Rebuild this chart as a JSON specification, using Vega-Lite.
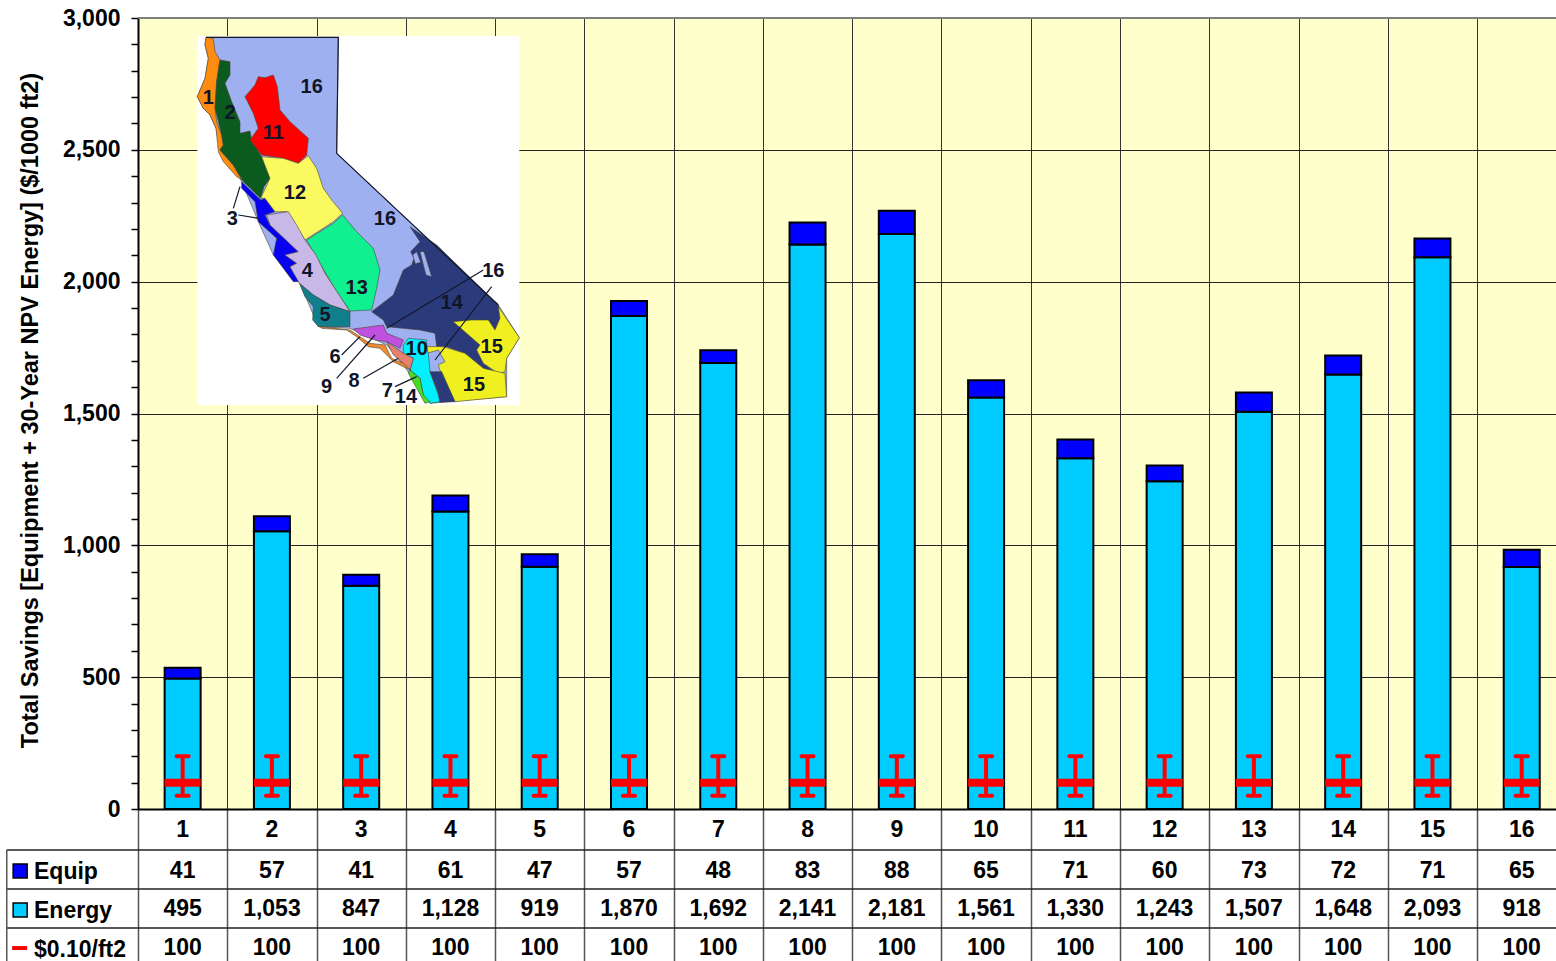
{
  "$schema": "https://vega.github.io/schema/vega-lite/v6.json",
  "autosize": "none",
  "width": 1418,
  "height": 791,
  "padding": {"left": 138, "top": 18, "right": 0, "bottom": 152},
  "background": "white",
  "view": {"fill": "#FFFFCC", "stroke": null},
  "config": {
    "font": "Liberation Sans",
    "text": {"font": "Liberation Sans", "fontWeight": "bold", "fontSize": 23, "color": "#000000"}
  },
  "datasets": {
    "zones": [
      {"zone": 1, "equip": 41, "energy": 495, "threshold": 100, "low": 50, "high": 200},
      {"zone": 2, "equip": 57, "energy": 1053, "threshold": 100, "low": 50, "high": 200},
      {"zone": 3, "equip": 41, "energy": 847, "threshold": 100, "low": 50, "high": 200},
      {"zone": 4, "equip": 61, "energy": 1128, "threshold": 100, "low": 50, "high": 200},
      {"zone": 5, "equip": 47, "energy": 919, "threshold": 100, "low": 50, "high": 200},
      {"zone": 6, "equip": 57, "energy": 1870, "threshold": 100, "low": 50, "high": 200},
      {"zone": 7, "equip": 48, "energy": 1692, "threshold": 100, "low": 50, "high": 200},
      {"zone": 8, "equip": 83, "energy": 2141, "threshold": 100, "low": 50, "high": 200},
      {"zone": 9, "equip": 88, "energy": 2181, "threshold": 100, "low": 50, "high": 200},
      {"zone": 10, "equip": 65, "energy": 1561, "threshold": 100, "low": 50, "high": 200},
      {"zone": 11, "equip": 71, "energy": 1330, "threshold": 100, "low": 50, "high": 200},
      {"zone": 12, "equip": 60, "energy": 1243, "threshold": 100, "low": 50, "high": 200},
      {"zone": 13, "equip": 73, "energy": 1507, "threshold": 100, "low": 50, "high": 200},
      {"zone": 14, "equip": 72, "energy": 1648, "threshold": 100, "low": 50, "high": 200},
      {"zone": 15, "equip": 71, "energy": 2093, "threshold": 100, "low": 50, "high": 200},
      {"zone": 16, "equip": 65, "energy": 918, "threshold": 100, "low": 50, "high": 200}
    ],
    "rowEdges": [{"edge": 1.038}, {"edge": 2.025}, {"edge": 3.013}],
    "rowLabels": [
      {"label": "Equip", "row": 1.6},
      {"label": "Energy", "row": 2.58},
      {"label": "$0.10/ft2", "row": 3.56}
    ],
    "mapLabels": [
      {"t": "16", "mx": 365, "my": 185},
      {"t": "1", "mx": 55, "my": 218},
      {"t": "2", "mx": 120, "my": 265},
      {"t": "11", "mx": 250, "my": 325},
      {"t": "12", "mx": 315, "my": 505},
      {"t": "16", "mx": 585, "my": 582},
      {"t": "3", "mx": 127, "my": 582},
      {"t": "4", "mx": 352, "my": 738},
      {"t": "13", "mx": 500, "my": 790},
      {"t": "5", "mx": 405, "my": 870},
      {"t": "14", "mx": 785, "my": 835},
      {"t": "16", "mx": 910, "my": 738},
      {"t": "15", "mx": 905, "my": 965},
      {"t": "10", "mx": 680, "my": 972},
      {"t": "15", "mx": 852, "my": 1080},
      {"t": "6", "mx": 435, "my": 995},
      {"t": "9", "mx": 410, "my": 1085},
      {"t": "8", "mx": 492, "my": 1068},
      {"t": "7", "mx": 592, "my": 1098},
      {"t": "14", "mx": 648, "my": 1115}
    ],
    "mapPanel": [
      {"type": "Feature", "properties": {"name": "panel"}, "geometry": {"type": "Polygon", "coordinates": [[[22,33],[988,33],[988,1140],[22,1140],[22,33]]]}}
    ],
    "mapRegions": [
      {"type": "Feature", "properties": {"name": "16"}, "geometry": {"type": "Polygon", "coordinates": [[[48,37],[445,37],[440,385],[925,840],[988,938],[950,1000],[950,1115],[720,1135],[640,1020],[590,960],[480,910],[385,905],[328,770],[250,690],[205,590],[155,470],[130,420],[90,375],[78,310],[60,270],[40,250],[22,215],[45,160],[55,100],[45,60],[48,37]]]}},
      {"type": "Feature", "properties": {"name": "1"}, "geometry": {"type": "Polygon", "coordinates": [[[48,37],[70,40],[75,80],[90,105],[80,170],[75,250],[80,290],[95,330],[100,360],[90,375],[130,420],[155,465],[140,455],[100,410],[85,380],[78,310],[60,270],[40,250],[22,215],[45,160],[55,100],[45,60],[48,37]]]}},
      {"type": "Feature", "properties": {"name": "2"}, "geometry": {"type": "Polygon", "coordinates": [[[90,105],[120,110],[120,150],[105,175],[125,230],[150,290],[150,325],[180,318],[185,345],[215,395],[240,460],[222,485],[212,520],[160,470],[130,420],[90,375],[100,360],[95,330],[75,250],[80,170],[90,105]]]}},
      {"type": "Feature", "properties": {"name": "3"}, "geometry": {"type": "Polygon", "coordinates": [[[155,470],[212,525],[225,520],[255,560],[225,570],[240,600],[325,680],[285,690],[320,715],[300,725],[328,770],[310,770],[250,690],[260,640],[205,590],[195,530],[155,490],[155,470]]]}},
      {"type": "Feature", "properties": {"name": "11"}, "geometry": {"type": "Polygon", "coordinates": [[[205,155],[225,158],[250,150],[262,185],[270,255],[300,290],[355,340],[350,390],[325,415],[280,400],[215,390],[180,345],[205,310],[190,265],[165,215],[195,180],[205,155]]]}},
      {"type": "Feature", "properties": {"name": "12"}, "geometry": {"type": "Polygon", "coordinates": [[[215,395],[280,400],[325,415],[355,392],[380,430],[400,490],[425,525],[458,565],[430,590],[345,645],[315,600],[290,560],[255,560],[225,520],[212,520],[240,460],[215,395]]]}},
      {"type": "Feature", "properties": {"name": "13"}, "geometry": {"type": "Polygon", "coordinates": [[[458,570],[500,620],[550,670],[570,735],[560,790],[545,855],[480,858],[440,800],[375,690],[350,645],[430,595],[458,570]]]}},
      {"type": "Feature", "properties": {"name": "4"}, "geometry": {"type": "Polygon", "coordinates": [[[230,570],[295,560],[320,600],[345,645],[378,690],[405,745],[480,860],[420,840],[370,810],[328,775],[300,725],[320,715],[285,690],[325,680],[240,600],[230,570]]]}},
      {"type": "Feature", "properties": {"name": "5"}, "geometry": {"type": "Polygon", "coordinates": [[[328,775],[370,810],[420,840],[480,860],[480,905],[385,905],[368,885],[370,845],[345,815],[328,775]]]}},
      {"type": "Feature", "properties": {"name": "14"}, "geometry": {"type": "Polygon", "coordinates": [[[660,605],[740,660],[925,840],[930,880],[915,915],[895,885],[790,890],[830,925],[870,960],[860,975],[880,1015],[925,1050],[880,1030],[825,985],[770,965],[740,965],[735,925],[690,915],[590,905],[580,885],[545,860],[610,810],[640,735],[665,720],[672,700],[662,680],[690,650],[660,605]]]}},
      {"type": "Feature", "properties": {"name": "16"}, "geometry": {"type": "Polygon", "coordinates": [[[690,680],[702,680],[725,755],[708,750],[690,680]]]}},
      {"type": "Feature", "properties": {"name": "16"}, "geometry": {"type": "Polygon", "coordinates": [[[668,690],[680,680],[692,712],[676,716],[668,690]]]}},
      {"type": "Feature", "properties": {"name": "15"}, "geometry": {"type": "Polygon", "coordinates": [[[925,845],[988,938],[950,1000],[945,1040],[925,1045],[880,1015],[860,975],[870,960],[830,925],[790,890],[845,885],[895,885],[915,915],[930,880],[925,845]]]}},
      {"type": "Feature", "properties": {"name": "15"}, "geometry": {"type": "Polygon", "coordinates": [[[710,965],[760,965],[825,985],[880,1030],[945,1045],[950,1115],[795,1130],[755,1050],[745,1020],[765,1010],[745,975],[710,985],[710,965]]]}},
      {"type": "Feature", "properties": {"name": "10"}, "geometry": {"type": "Polygon", "coordinates": [[[640,960],[655,940],[710,945],[710,965],[715,985],[720,1040],[745,1110],[750,1130],[720,1135],[700,1115],[690,1060],[660,1035],[670,1000],[640,985],[640,960]]]}},
      {"type": "Feature", "properties": {"name": "14"}, "geometry": {"type": "Polygon", "coordinates": [[[720,1040],[755,1040],[795,1130],[750,1132],[745,1105],[720,1040]]]}},
      {"type": "Feature", "properties": {"name": "7"}, "geometry": {"type": "Polygon", "coordinates": [[[660,1035],[690,1060],[700,1110],[720,1130],[705,1135],[680,1090],[655,1045],[660,1035]]]}},
      {"type": "Feature", "properties": {"name": "8"}, "geometry": {"type": "Polygon", "coordinates": [[[590,950],[640,985],[670,1000],[660,1035],[640,1015],[610,990],[590,950]]]}},
      {"type": "Feature", "properties": {"name": "6"}, "geometry": {"type": "Polygon", "coordinates": [[[390,905],[480,915],[510,935],[540,955],[585,960],[605,1000],[640,1015],[662,1035],[640,1025],[610,1010],[570,970],[535,965],[500,935],[470,915],[395,910],[390,905]]]}},
      {"type": "Feature", "properties": {"name": "9"}, "geometry": {"type": "Polygon", "coordinates": [[[490,912],[580,900],[590,925],[640,945],[630,970],[590,950],[555,945],[510,930],[490,912]]]}}
    ],
    "mapLines": [
      {"type": "Feature", "properties": {"name": "border"}, "geometry": {"type": "LineString", "coordinates": [[48,37],[445,37],[440,385],[925,840]]}},
      {"type": "Feature", "properties": {"name": "leaders"}, "geometry": {"type": "MultiLineString", "coordinates": [[[150,485],[130,550]],[[145,570],[205,580]],[[880,735],[590,910]],[[905,785],[735,1005]],[[455,990],[510,935]],[[440,1060],[555,930]],[[520,1060],[625,1000]],[[615,1085],[680,1055]]]}}
    ]
  },
  "resolve": {"scale": {"y": "independent"}, "axis": {"y": "independent"}},
  "layer": [
    {
      "layer": [
        {
          "data": {"name": "zones"},
          "transform": [{"fold": ["energy", "equip"], "as": ["series", "amount"]}],
          "mark": {"type": "bar", "width": 36, "stroke": "#000000", "strokeWidth": 2},
          "encoding": {
            "x": {
              "field": "zone",
              "type": "quantitative",
              "scale": {"domain": [0.5, 16.384], "nice": false, "zero": false, "padding": 0},
              "axis": {
                "title": null,
                "values": [0.5, 1.5, 2.5, 3.5, 4.5, 5.5, 6.5, 7.5, 8.5, 9.5, 10.5, 11.5, 12.5, 13.5, 14.5, 15.5],
                "labels": false,
                "tickSize": 152,
                "tickColor": "#555555",
                "tickWidth": 1.5,
                "grid": true,
                "gridColor": "#333333",
                "gridWidth": 1,
                "domain": true,
                "domainColor": "#000000",
                "domainWidth": 2
              }
            },
            "y": {
              "field": "amount",
              "type": "quantitative",
              "stack": "zero",
              "scale": {"domain": [0, 3000], "nice": false},
              "axis": {
                "title": "Total Savings [Equipment + 30-Year NPV Energy] ($/1000 ft2)",
                "titleFont": "Liberation Sans",
                "titleFontWeight": "bold",
                "titleFontSize": 23.5,
                "titleColor": "#000000",
                "titleX": -96,
                "titleY": 392,
                "tickCount": 30,
                "labelExpr": "datum.value % 500 === 0 ? format(datum.value, ',') : ''",
                "labelFont": "Liberation Sans",
                "labelFontWeight": "bold",
                "labelFontSize": 23,
                "labelColor": "#000000",
                "labelPadding": 11,
                "labelOverlap": false,
                "labelFlush": false,
                "tickSize": 7,
                "tickColor": "#000000",
                "tickWidth": 1.5,
                "domainColor": "#000000",
                "domainWidth": 2,
                "grid": true,
                "gridWidth": 1,
                "gridColor": {"condition": {"test": "datum.value % 500 === 0", "value": "#222222"}, "value": "transparent"}
              }
            },
            "fill": {
              "field": "series",
              "type": "nominal",
              "scale": {"domain": ["equip", "energy"], "range": ["#0000FF", "#00CCFF"]},
              "legend": null
            },
            "order": {"field": "series", "sort": "ascending"}
          }
        },
        {
          "data": {"name": "zones"},
          "mark": {"type": "rule", "color": "#FF0000", "strokeWidth": 4},
          "encoding": {
            "x": {"field": "zone", "type": "quantitative"},
            "y": {"field": "low", "type": "quantitative"},
            "y2": {"field": "high"}
          }
        },
        {
          "data": {"name": "zones"},
          "mark": {"type": "tick", "orient": "horizontal", "color": "#FF0000", "size": 16, "thickness": 4, "cornerRadius": 2, "opacity": 1},
          "encoding": {
            "x": {"field": "zone", "type": "quantitative"},
            "y": {"field": "low", "type": "quantitative"}
          }
        },
        {
          "data": {"name": "zones"},
          "mark": {"type": "tick", "orient": "horizontal", "color": "#FF0000", "size": 16, "thickness": 4, "cornerRadius": 2, "opacity": 1},
          "encoding": {
            "x": {"field": "zone", "type": "quantitative"},
            "y": {"field": "high", "type": "quantitative"}
          }
        },
        {
          "data": {"name": "zones"},
          "mark": {"type": "tick", "orient": "horizontal", "color": "#FF0000", "size": 36, "thickness": 8, "opacity": 1},
          "encoding": {
            "x": {"field": "zone", "type": "quantitative"},
            "y": {"field": "threshold", "type": "quantitative"}
          }
        },
        {
          "data": {"values": [{"top": 3000}]},
          "mark": {"type": "rule", "color": "#808080", "strokeWidth": 2},
          "encoding": {"y": {"field": "top", "type": "quantitative"}}
        }
      ]
    },
    {
      "layer": [
        {
          "data": {"name": "rowEdges"},
          "mark": {"type": "rule", "color": "#222222", "strokeWidth": 1.5},
          "encoding": {
            "x": {"datum": -0.97, "type": "quantitative"},
            "x2": {"datum": 16.384},
            "y": {"field": "edge", "type": "quantitative", "scale": {"domain": [0, 4], "range": [791, 949], "nice": false}, "axis": null}
          }
        },
        {
          "data": {"values": [{"from": 1.038, "to": 4}]},
          "mark": {"type": "rule", "color": "#555555", "strokeWidth": 1.5},
          "encoding": {
            "x": {"datum": -0.97, "type": "quantitative"},
            "y": {"field": "from", "type": "quantitative", "scale": {"domain": [0, 4], "range": [791, 949], "nice": false}, "axis": null},
            "y2": {"field": "to"}
          }
        },
        {
          "data": {"name": "zones"},
          "mark": {"type": "text", "align": "center", "baseline": "middle"},
          "encoding": {
            "x": {"field": "zone", "type": "quantitative"},
            "y": {"datum": 0.53, "type": "quantitative", "scale": {"domain": [0, 4], "range": [791, 949], "nice": false}, "axis": null},
            "text": {"field": "zone", "type": "quantitative", "format": "d"}
          }
        },
        {
          "data": {"name": "zones"},
          "mark": {"type": "text", "align": "center", "baseline": "middle"},
          "encoding": {
            "x": {"field": "zone", "type": "quantitative"},
            "y": {"datum": 1.57, "type": "quantitative", "scale": {"domain": [0, 4], "range": [791, 949], "nice": false}, "axis": null},
            "text": {"field": "equip", "type": "quantitative", "format": ",d"}
          }
        },
        {
          "data": {"name": "zones"},
          "mark": {"type": "text", "align": "center", "baseline": "middle"},
          "encoding": {
            "x": {"field": "zone", "type": "quantitative"},
            "y": {"datum": 2.53, "type": "quantitative", "scale": {"domain": [0, 4], "range": [791, 949], "nice": false}, "axis": null},
            "text": {"field": "energy", "type": "quantitative", "format": ",d"}
          }
        },
        {
          "data": {"name": "zones"},
          "mark": {"type": "text", "align": "center", "baseline": "middle"},
          "encoding": {
            "x": {"field": "zone", "type": "quantitative"},
            "y": {"datum": 3.52, "type": "quantitative", "scale": {"domain": [0, 4], "range": [791, 949], "nice": false}, "axis": null},
            "text": {"field": "threshold", "type": "quantitative", "format": ",d"}
          }
        },
        {
          "data": {"name": "rowLabels"},
          "mark": {"type": "text", "align": "left", "baseline": "middle"},
          "encoding": {
            "x": {"datum": -0.665, "type": "quantitative"},
            "y": {"field": "row", "type": "quantitative", "scale": {"domain": [0, 4], "range": [791, 949], "nice": false}, "axis": null},
            "text": {"field": "label", "type": "nominal"}
          }
        },
        {
          "data": {"values": [{"row": 1.57, "series": "equip"}, {"row": 2.56, "series": "energy"}]},
          "mark": {"type": "point", "shape": "square", "filled": true, "size": 196, "stroke": "#000000", "strokeWidth": 1.5, "opacity": 1},
          "encoding": {
            "x": {"datum": -0.82, "type": "quantitative"},
            "y": {"field": "row", "type": "quantitative", "scale": {"domain": [0, 4], "range": [791, 949], "nice": false}, "axis": null},
            "fill": {"field": "series", "type": "nominal", "legend": null}
          }
        },
        {
          "data": {"values": [{"row": 3.52}]},
          "mark": {"type": "rule", "color": "#FF0000", "strokeWidth": 4},
          "encoding": {
            "x": {"datum": -0.91, "type": "quantitative"},
            "x2": {"datum": -0.742},
            "y": {"field": "row", "type": "quantitative", "scale": {"domain": [0, 4], "range": [791, 949], "nice": false}, "axis": null}
          }
        }
      ]
    },
    {
      "layer": [
        {
          "data": {"name": "mapPanel"},
          "projection": {"type": "identity", "scale": 0.33333, "translate": [52, 7]},
          "mark": {"type": "geoshape", "fill": "#FFFFFF", "stroke": null},
          "encoding": {}
        },
        {
          "data": {"name": "mapRegions"},
          "projection": {"type": "identity", "scale": 0.33333, "translate": [52, 7]},
          "mark": {"type": "geoshape", "stroke": "#4a4438", "strokeWidth": 0.6},
          "encoding": {
            "color": {
              "field": "properties.name",
              "type": "nominal",
              "legend": null,
              "scale": {
                "domain": ["1", "2", "3", "4", "5", "6", "7", "8", "9", "10", "11", "12", "13", "14", "15", "16"],
                "range": ["#FF8C10", "#0B5A1E", "#0800F0", "#C8B8E8", "#0F7F8C", "#F08A30", "#44DD22", "#E88070", "#C050E0", "#00F0FF", "#FF0000", "#FAFA60", "#10F090", "#2A3A7A", "#F0F020", "#9FB0F0"]
              }
            }
          }
        },
        {
          "data": {"name": "mapLines"},
          "projection": {"type": "identity", "scale": 0.33333, "translate": [52, 7]},
          "mark": {"type": "geoshape", "filled": false, "stroke": "#14182a", "strokeWidth": 1.2},
          "encoding": {}
        },
        {
          "data": {"name": "mapLabels"},
          "projection": {"type": "identity", "scale": 0.33333, "translate": [52, 7]},
          "mark": {"type": "text", "font": "Liberation Sans", "fontWeight": "bold", "fontSize": 20, "color": "#11152a", "align": "center", "baseline": "middle"},
          "encoding": {
            "longitude": {"field": "mx", "type": "quantitative"},
            "latitude": {"field": "my", "type": "quantitative"},
            "text": {"field": "t", "type": "nominal"}
          }
        }
      ]
    }
  ]
}
